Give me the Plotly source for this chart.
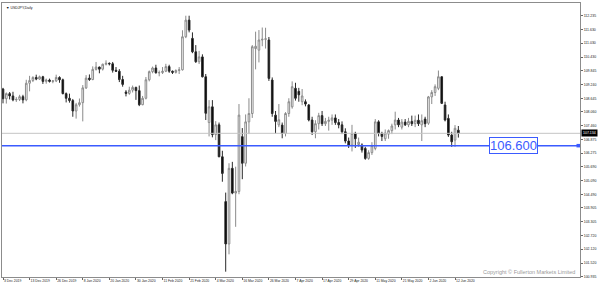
import pandas as pd
import plotly.graph_objects as go

# ---- categories: trading days (weekdays, no Christmas / New Year bars) ----
holidays = ["2019-12-25", "2020-01-01"]
days = pd.bdate_range("2019-12-03", "2020-06-15")
days = days[~days.isin(pd.to_datetime(holidays))]
dates = [f"{d.day} {d.strftime('%b %Y')}" for d in days]

# ---- OHLC values ----
opens_dec = [109.05,108.63,108.85,108.75,108.58,108.60,108.72,108.58,109.30,109.42,109.55,109.48,109.58,109.38,109.44,109.38,109.40,109.55,109.45,108.85]
highs_dec = [109.10,108.90,108.92,108.93,108.70,108.80,108.80,109.45,109.62,109.60,109.67,109.63,109.62,109.50,109.50,109.44,109.67,109.60,109.50,108.90]
lows_dec  = [108.43,108.42,108.60,108.52,108.49,108.53,108.43,108.52,108.95,109.35,109.43,109.45,109.27,109.28,109.33,109.30,109.35,109.32,108.82,108.47]
close_dec = [108.63,108.85,108.75,108.58,108.60,108.72,108.58,109.30,109.42,109.55,109.48,109.58,109.38,109.44,109.38,109.40,109.55,109.45,108.85,108.65]

opens_jan = [108.65,108.55,108.10,108.37,108.46,109.10,109.52,109.46,109.90,110.00,109.91,110.12,110.16,110.14,109.86,109.82,109.46,108.92,108.86,109.00,109.12,108.98]
highs_jan = [108.85,108.62,108.45,108.64,109.22,109.65,109.68,110.03,110.22,110.02,110.15,110.29,110.20,110.22,110.00,109.91,109.62,109.00,109.15,109.20,109.15,109.20]
lows_jan  = [108.46,107.85,107.77,108.29,107.65,109.05,109.40,109.43,109.85,109.73,109.85,110.07,110.07,109.76,109.79,109.35,109.15,108.73,108.80,108.90,108.58,108.31]
close_jan = [108.55,108.10,108.37,108.46,109.10,109.52,109.46,109.90,110.00,109.91,110.12,110.16,110.14,109.86,109.82,109.46,109.25,108.86,109.00,109.12,108.98,108.37]

opens_feb = [108.37,108.65,109.45,109.80,109.96,109.75,109.76,109.82,110.02,109.82,109.77,109.85,109.88,111.31,112.03,111.24,110.66,110.23,110.44,109.58]
highs_feb = [108.75,109.57,109.85,110.02,110.10,109.85,110.00,110.14,110.10,109.85,109.90,110.00,111.59,112.22,112.22,111.50,110.95,110.70,110.55,109.70]
lows_feb  = [108.35,108.60,109.38,109.73,109.72,109.60,109.70,109.78,109.75,109.70,109.72,109.70,109.85,111.25,111.50,110.60,110.18,110.13,109.55,107.71]
close_feb = [108.65,109.45,109.80,109.96,109.75,109.76,109.82,110.02,109.82,109.77,109.85,109.88,111.31,112.03,111.60,110.66,110.23,110.44,109.58,108.00]

opens_mar = [107.60,108.28,107.08,107.50,106.12,104.18,102.35,105.62,104.55,104.62,106.99,105.84,107.63,107.99,110.80,110.73,111.17,111.20,111.17,109.44,107.92,107.50]
highs_mar = [108.57,108.57,107.66,107.60,106.38,104.57,105.84,105.90,105.69,108.40,107.36,107.95,108.65,110.95,111.53,111.60,111.71,111.70,111.30,109.55,108.10,108.40]
lows_mar  = [107.00,106.96,106.84,106.10,105.04,101.15,101.90,104.50,103.09,104.50,105.15,105.70,107.10,107.80,109.90,110.20,110.90,110.80,109.40,107.85,107.13,107.40]
close_mar = [108.28,107.08,107.50,106.12,105.40,102.35,105.62,104.55,104.62,107.92,105.84,107.63,107.99,110.88,110.90,111.17,111.20,111.22,109.51,107.99,107.65,107.72]

opens_apr = [107.49,107.13,107.99,108.28,109.08,108.95,108.50,108.50,108.36,107.71,107.20,107.55,107.90,107.55,107.65,107.70,107.80,107.60,107.50,107.20,106.80,106.62]
highs_apr = [107.60,108.05,108.65,109.38,109.32,109.10,109.05,108.60,108.40,107.85,107.70,108.02,108.10,107.80,107.85,107.95,107.95,107.75,107.65,107.35,106.95,107.50]
lows_apr  = [106.92,107.00,107.85,108.20,108.55,108.50,108.35,108.30,107.65,107.06,106.92,107.30,107.45,107.45,107.25,107.50,107.50,107.35,107.10,106.70,106.50,106.35]
close_apr = [107.13,107.99,108.50,109.15,108.65,108.80,108.75,108.40,107.71,107.20,107.55,107.90,107.55,107.65,107.70,107.80,107.60,107.50,107.20,106.80,106.62,107.13]

opens_may = [107.13,106.65,106.63,106.48,106.05,106.30,106.48,107.63,107.13,106.90,107.10,107.25,107.50,107.71,107.40,107.62,107.50,107.65,107.55,107.70,107.50]
highs_may = [107.20,106.95,106.70,106.55,106.40,106.75,107.75,107.70,107.20,107.30,107.30,107.55,108.07,107.80,107.75,107.75,107.80,107.90,107.90,107.95,107.95]
lows_may  = [106.50,106.55,106.30,105.99,105.99,106.20,106.40,107.00,106.80,106.80,106.90,107.10,107.30,107.40,107.30,107.45,107.40,107.45,107.40,107.45,106.80]
close_may = [106.90,106.75,106.41,106.05,106.30,106.60,107.63,107.13,107.00,107.15,107.25,107.45,107.71,107.50,107.62,107.50,107.65,107.55,107.70,107.55,107.68]

opens_jun = [107.75,107.57,108.71,108.90,109.08,109.58,108.36,107.78,107.06,106.84,107.27]
highs_jun = [107.85,108.75,109.00,109.25,109.85,109.60,108.50,107.95,107.20,107.49,107.45]
lows_jun  = [107.40,107.50,108.40,108.75,109.00,108.40,107.65,106.98,106.55,106.55,106.95]
close_jun = [107.55,108.71,108.90,109.15,109.58,108.43,107.71,107.06,106.77,107.35,107.134]

opens = opens_dec + opens_jan + opens_feb + opens_mar + opens_apr + opens_may + opens_jun
highs = highs_dec + highs_jan + highs_feb + highs_mar + highs_apr + highs_may + highs_jun
lows = lows_dec + lows_jan + lows_feb + lows_mar + lows_apr + lows_may + lows_jun
closes = close_dec + close_jan + close_feb + close_mar + close_apr + close_may + close_jun

# ---- axis labels ----
y_ticks = [112.235, 111.630, 111.030, 110.430, 109.845, 109.240, 108.645, 108.060, 107.460,
           106.875, 106.275, 105.690, 105.090, 104.490, 103.905, 103.305, 102.720, 102.120,
           101.520, 100.935]
x_ticks = dates[::8]

support_level = 106.600
current_price = closes[-1]
title_text = "▼ USDJPY,Daily"
copyright_text = "Copyright © Fullerton Markets Limited"

FONT = "Liberation Sans, Arial, sans-serif"
BLUE = "#3b5bff"

fig = go.Figure(go.Candlestick(
    x=dates, open=opens, high=highs, low=lows, close=closes,
    increasing=dict(line=dict(color="#8a8a8a", width=1), fillcolor="#ffffff"),
    decreasing=dict(line=dict(color="#2a2a2a", width=1), fillcolor="#000000"),
    hoverinfo="skip", showlegend=False,
))

fig.update_layout(
    width=600, height=289, autosize=False,
    margin=dict(l=2, r=20, t=3, b=12, autoexpand=False),
    paper_bgcolor="white", plot_bgcolor="white",
    font=dict(family=FONT, color="#222222"),
    xaxis=dict(
        type="category", range=[-0.3, 173.6], rangeslider=dict(visible=False),
        showgrid=False, zeroline=False, showline=True, linecolor="#8c8c8c", linewidth=1,
        mirror=True, ticks="outside", ticklen=2, tickcolor="#666666",
        tickmode="array", tickvals=x_ticks, ticktext=x_ticks, tickangle=0,
        ticklabelposition="outside right", automargin=False,
        tickfont=dict(size=3.4, color="#222222", family=FONT),
    ),
    yaxis=dict(
        side="right", range=[100.92, 112.77], automargin=False,
        showgrid=False, zeroline=False, showline=True, linecolor="#8c8c8c", linewidth=1,
        mirror=True, ticks="outside", ticklen=2, tickcolor="#666666",
        tickmode="array", tickvals=y_ticks, ticktext=[f"{v:.3f}" for v in y_ticks],
        tickfont=dict(size=3.5, color="#222222", family=FONT),
    ),
    shapes=[
        dict(type="line", xref="paper", x0=0, x1=1, yref="y", y0=current_price, y1=current_price,
             line=dict(color="#c4c4c4", width=1)),
        dict(type="line", xref="paper", x0=0, x1=1, yref="y", y0=support_level, y1=support_level,
             line=dict(color=BLUE, width=1.5)),
        dict(type="rect", xref="paper", xsizemode="pixel", xanchor=1, x0=-3.5, x1=0,
             yref="y", ysizemode="pixel", yanchor=support_level, y0=-1.75, y1=1.75,
             fillcolor=BLUE, line=dict(width=0)),
    ],
    annotations=[
        dict(text=f"{support_level:.3f}", xref="paper", x=0.8853, yref="y", y=support_level,
             xanchor="center", yanchor="middle", showarrow=False,
             font=dict(size=13, color=BLUE, family=FONT),
             bgcolor="white", bordercolor=BLUE, borderwidth=1, borderpad=0),
        dict(text=f"{current_price:.3f}", xref="paper", x=1, xanchor="left", xshift=1,
             yref="y", y=current_price, yanchor="middle", showarrow=False,
             font=dict(size=3.5, color="white", family=FONT),
             bgcolor="black", borderpad=1),
        dict(text=copyright_text, xref="paper", x=1, xanchor="right", xshift=-3,
             yref="paper", y=0.018, yanchor="middle", showarrow=False,
             font=dict(size=5.5, color="#9a9a9a", family=FONT)),
        dict(text=title_text, xref="paper", x=0, xanchor="left", xshift=2,
             yref="paper", y=1, yanchor="top", yshift=-1, showarrow=False,
             font=dict(size=3.5, color="#111111", family=FONT)),
    ],
)

fig.write_html("out.html")
